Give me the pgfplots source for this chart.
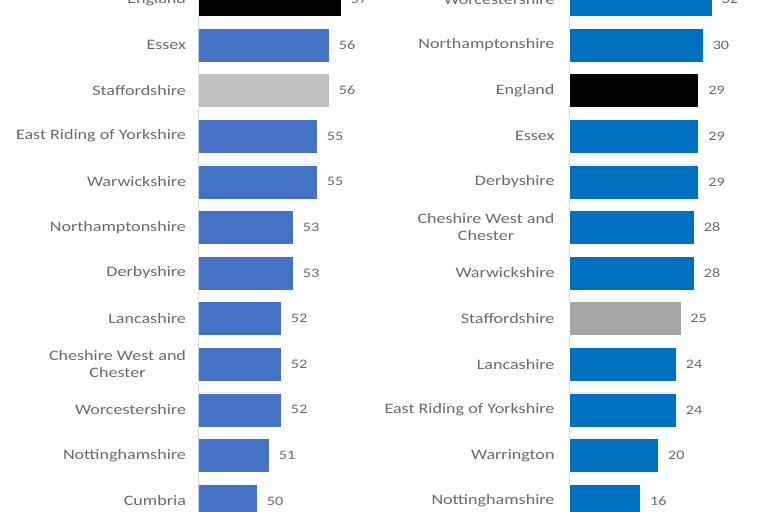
\documentclass[border=0pt]{standalone}
\usepackage{pgfplots}
\pgfplotsset{compat=1.18}
\usepackage{fontspec}
\setmainfont{Carlito}
\newfontfamily\wide[FakeStretch=1.25]{Carlito}
\definecolor{lblue}{HTML}{4472C4}
\definecolor{rblue}{HTML}{0070C0}
\definecolor{lgrey}{HTML}{BFBFBF}
\definecolor{rgrey}{HTML}{A5A5A5}
\definecolor{txt}{HTML}{6A6A6A}
\definecolor{axl}{HTML}{D9D9D9}
\pgfplotsset{panel/.style={
  scale only axis, height=547.2bp, ymin=-0.5, ymax=11.5, y dir=reverse,
  axis x line=none, axis y line=left,
  axis line style={-, draw=axl, line width=1bp},
  ytick={0,...,11}, major tick length=0pt,
  /pgf/number format/assume math mode=true,
  yticklabel style={font=\wide\fontsize{14.5}{17}\selectfont, text=txt, align=center, xshift=-9bp},
  xbar, bar shift=0pt, bar width=34bp,
  nodes near coords,
  nodes near coords style={font=\wide\fontsize{13}{15}\selectfont, text=txt, anchor=west, xshift=6bp},
  clip mode=individual, anchor=north west,
}}
\begin{document}
\begin{tikzpicture}
\begin{axis}[panel, at={(198.5bp,23.4bp)}, width=202.8bp, xmin=45.1, xmax=62,
  yticklabels={England, Essex, Staffordshire, East Riding of Yorkshire, Warwickshire, Northamptonshire, Derbyshire, Lancashire, {Cheshire West and\\Chester}, Worcestershire, Nottinghamshire, Cumbria}]
\addplot[fill=lblue, draw=white, line width=0.6bp] coordinates {(56,1) (55,3) (55,4) (53,5) (53,6) (52,7) (52,8) (52,9) (51,10) (50,11)};
\addplot[fill=lgrey, draw=white, line width=0.6bp] coordinates {(56,2)};
\addplot[fill=black, draw=white, line width=0.6bp] coordinates {(57,0)};
\end{axis}
\begin{axis}[panel, at={(569bp,23.4bp)}, width=199bp, xmin=0, xmax=44.5,
  yticklabel style={xshift=-2bp},
  yticklabels={Worcestershire, Northamptonshire, England, Essex, Derbyshire, {Cheshire West and\\Chester}, Warwickshire, Staffordshire, Lancashire, East Riding of Yorkshire, Warrington, Nottinghamshire}]
\addplot[fill=rblue, draw=white, line width=0.6bp] coordinates {(32,0) (30,1) (29,3) (29,4) (28,5) (28,6) (24,8) (24,9) (20,10) (16,11)};
\addplot[fill=rgrey, draw=white, line width=0.6bp] coordinates {(25,7)};
\addplot[fill=black, draw=white, line width=0.6bp] coordinates {(29,2)};
\end{axis}
\pgfresetboundingbox
\useasboundingbox (0,0) rectangle (768bp,-512bp);
\end{tikzpicture}
\end{document}
